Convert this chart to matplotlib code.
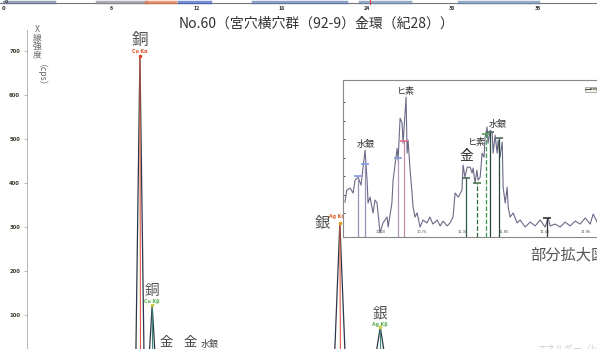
import matplotlib
matplotlib.use("Agg")
from matplotlib import pyplot as plt

plt.rcParams['font.family'] = ['Noto Sans CJK JP', 'DejaVu Sans']

W, H = 597, 349

# main spectrum (keV, cps)
energy = [0.1, 7.6, 7.75, 8.04, 8.33, 8.6, 8.68, 8.9, 9.12, 9.4, 9.71, 10.0,
          10.54, 11.44, 11.82, 12.6, 21.6, 21.72, 22.1, 22.48, 22.7, 24.5,
          24.59, 24.94, 25.29, 25.5, 40.5]
counts = [4, 4, 0, 690, 0, 6, 0, 123, 0, 6, 14, 10,
          12, 14, 11, 6, 4, 0, 310, 0, 4, 4,
          0, 73, 0, 4, 4]

# identified lines
peak_e = [8.04, 8.9, 22.1, 24.94]
peak_h = [690, 123, 310, 73]
peak_name = ["Cu Kα", "Cu Kβ", "Ag Kα", "Ag Kβ"]
peak_elem = ["銅", "銅", "銀", "銀"]

# enlarged region (keV, cps)
zoom_e = [9.72, 9.745, 9.79, 9.83, 9.856, 9.896, 9.936, 9.99, 10.017, 10.03,
          10.057, 10.097, 10.124, 10.15, 10.178, 10.19, 10.23, 10.285, 10.3,
          10.35, 10.366, 10.42, 10.433, 10.46, 10.487, 10.5, 10.54, 10.554,
          10.567, 10.594, 10.62, 10.634, 10.66, 10.688, 10.728, 10.768, 10.82,
          10.86, 10.9, 10.957, 10.997, 11.037, 11.09, 11.13, 11.17, 11.198,
          11.24, 11.29, 11.305, 11.33, 11.36, 11.4, 11.426, 11.44, 11.466,
          11.49, 11.507, 11.534, 11.56, 11.587, 11.6, 11.627, 11.64, 11.668,
          11.695, 11.708, 11.735, 11.762, 11.775, 11.8, 11.83, 11.842, 11.87,
          11.896, 11.91, 11.936, 11.977, 12.03, 12.07, 12.138, 12.205, 12.272,
          12.339, 12.406, 12.446, 12.473, 12.54, 12.607, 12.674, 12.74, 12.81,
          12.876, 12.943, 13.01, 13.05, 13.104, 13.2, 13.3]
zoom_c = [18.9, 25.4, 26.5, 23.8, 30.8, 32.4, 28.1, 47, 30.8, 18.4,
          21.6, 13, 20, 18.4, 7.6, 2.2, 7.6, 10.8, 5.4,
          18.4, 30.8, 48, 41.6, 64.3, 61.6, 50.8, 75.7, 45.4,
          52.4, 36.2, 23.8, 16.2, 10.8, 13, 5.4, 9.2, 7.6,
          10.8, 7, 9.2, 6, 8.6, 6, 7.6, 10.8, 23.8,
          21.6, 25.4, 38.9, 32.4, 37.8, 37.8, 34.6, 37.3, 29.2,
          36.2, 30.8, 32.4, 45.4, 43.2, 54, 59.5, 50.8, 57.8,
          56.2, 45.4, 55.1, 45.4, 52.4, 43.2, 51.4, 27, 18.4,
          27, 16.2, 10.8, 13, 7.6, 9.2, 5.4, 8.1, 6,
          9.2, 5.4, 10.3, 6, 7, 5.4, 8.1, 6, 8.6,
          7, 10.3, 7, 12.4, 8.1, 6, 9]

# marker lines in the enlarged region
mark_e = [9.896, 9.99, 10.433, 10.513, 11.346, 11.493, 11.614, 11.668, 11.789, 12.433]
mark_h = [33, 39.5, 42.7, 51.9, 31.9, 29.2, 56, 56.8, 53.5, 10.3]
mark_line = ['#9a90b8', '#9a90b8', '#b098b8', '#c890a8', '#2f5a4a',
             '#2f6a3a', '#3a9a4a', '#24463c', '#24463c', '#333333']
mark_cap = ['#7f9be0', '#7f9be0', '#7f9be0', '#e0708a', '#4a6a5a',
            '#4a7a4a', '#5aa05a', '#556a66', '#556a66', '#333333']
mark_style = ['-', '-', '-', '-', '-', '--', '--', '-', '-', '-']

zoom_labels = ["ヒ素", "水銀", "金", "ヒ素", "水銀"]
zoom_label_e = [10.54, 10.003, 11.346, 11.493, 11.775]
zoom_label_c = [78.9, 50.3, 43.8, 51.4, 61.1]
zoom_label_size = [6.5, 6.5, 10, 6.5, 6.5]
zoom_ticks = [10.2, 10.75, 11.3, 11.85, 12.4, 12.95]

y_ticks = [100, 200, 300, 400, 500, 600, 700]
strip_ticks = [6, 12, 18, 24, 30, 36]


def px_to_kev(px):
    return (px - 25.6) / 14.22


fig = plt.figure(figsize=(W / 100, H / 100), dpi=100)

# --- strip left over from the chart above ---
strip = fig.add_axes([0, 1 - 5 / H, 1, 5 / H])
strip.set_xlim(px_to_kev(0), px_to_kev(W))
strip.set_ylim(0, 1)
strip.axhline(0.35, color='#777777', lw=0.8)
for a, b, c in [(-1.5, 2.0, '#6a7a9a'), (5.0, 8.5, '#8a8a9a'), (8.5, 10.5, '#e07040'),
                (10.8, 13.0, '#4060c0'), (16.0, 22.5, '#5a7ab0'), (23.5, 27.0, '#6a8ab0'),
                (30.5, 36.0, '#6a8ab0')]:
    strip.plot([a, b], [0.6, 0.6], color=c, lw=2.5, alpha=0.7)
strip.axvline(24.2, color='#e04040', lw=0.8)
strip.set_xticks(strip_ticks)
strip.set_xticklabels([str(t) for t in strip_ticks], fontsize=3.8,
                      fontweight='bold', color='#333333')
strip.tick_params(axis='x', length=0, pad=0.5)
strip.set_yticks([])
for s in strip.spines.values():
    s.set_visible(False)
fig.text(2 / W, 1 - 9 / H, "0", fontsize=3.8, fontweight='bold', color='#333333',
         ha='left', va='center', family='DejaVu Sans')
fig.text(5 / W, 1 - 2 / H, "0", fontsize=3.2, fontweight='bold', color='#333333',
         ha='left', va='center', family='DejaVu Sans')

# --- main spectrum ---
ax = fig.add_axes([27 / W, 0, 1 - 27 / W, 1 - 30 / H])
ax.set_xlim(px_to_kev(27), px_to_kev(W))
ax.set_ylim(22.7, 748)
ax.plot(energy, counts, color='#2c3848', lw=0.9)

line_cols = ['#e05a40', '#3a8a7a', '#e05a40', '#3a8a7a']
dot_cols = ['#d9432f', '#c8c840', '#e0a020', '#c8d040']
name_cols = ['#e0502a', '#58b050', '#e0602a', '#58b050']
name_off = [(0, 2.9), (0, 2.2), (-2.2, 4.3), (0, 1.4)]
elem_off = [(0, 11), (0, 10), (-12.5, 0), (0, 9.4)]
elem_size = [12, 10.5, 11, 10.5]
for i in range(len(peak_e)):
    ax.plot([peak_e[i] + 0.04, peak_e[i]], [0, peak_h[i]], color=line_cols[i], lw=0.8)
    ax.plot([peak_e[i]], [peak_h[i]], 'o', ms=2.6, color=dot_cols[i], mec='none')
    ax.annotate(peak_name[i], (peak_e[i], peak_h[i]), xytext=name_off[i],
                textcoords='offset points', ha='center', va='center',
                fontsize=3.4, color=name_cols[i], family='DejaVu Sans', fontweight='bold')
    ax.annotate(peak_elem[i], (peak_e[i], peak_h[i]), xytext=elem_off[i],
                textcoords='offset points', ha='center', va='center',
                fontsize=elem_size[i], color='#555555')

ax.text(9.85, 38, "金", fontsize=9.5, color='#444444', ha='center', va='center')
ax.text(11.6, 38, "金", fontsize=9.5, color='#444444', ha='center', va='center')
ax.text(12.35, 34, "水銀", fontsize=6.5, color='#444444', ha='left', va='center')

ax.set_yticks(y_ticks)
ax.set_yticklabels([str(t) for t in y_ticks], fontsize=3.8, fontweight='bold',
                   color='#3a3a2a', family='DejaVu Sans')
ax.tick_params(axis='y', length=2, width=0.5, color='#999999', pad=3)
ax.set_xticks([])
for k in ['top', 'right', 'bottom']:
    ax.spines[k].set_visible(False)
ax.spines['left'].set_color('#aaaaaa')
ax.spines['left'].set_linewidth(0.6)
ax.spines['left'].set_linestyle((0, (2, 1)))

# vertical axis title
fig.text(37 / W, 1 - 25 / H, "X\n線\n強\n度", fontsize=6.3, color='#666666',
         ha='center', va='top', linespacing=0.95)
fig.text(37 / W, 1 - 64 / H, "（cps）", fontsize=6.3, color='#666666',
         ha='center', va='top', rotation=-90)

fig.text(317 / W, 1 - 24 / H, "No.60（宮穴横穴群（92-9）金環（紀28））",
         fontsize=10, color='#333333', ha='center', va='center')

# --- enlarged region ---
axi = fig.add_axes([342.7 / W, 1 - 237 / H, (620 - 342.7) / W, 157 / H])
axi.set_xlim(9.69, 13.41)
axi.set_ylim(0, 85)
axi.plot(zoom_e, zoom_c, color='#6a6a88', lw=0.8)
for i in range(len(mark_e)):
    axi.plot([mark_e[i], mark_e[i]], [0, mark_h[i]], color=mark_line[i], lw=0.9,
             ls=mark_style[i])
    axi.plot([mark_e[i]], [mark_h[i]], marker='_', ms=6, mew=1.2, color=mark_cap[i])
for i in range(len(zoom_labels)):
    axi.text(zoom_label_e[i], zoom_label_c[i], zoom_labels[i], fontsize=zoom_label_size[i],
             color='#333333', ha='center', va='center')
axi.set_xticks(zoom_ticks)
axi.set_xticklabels(["%.2f" % t for t in zoom_ticks], fontsize=2.5, color='#444444',
                    family='DejaVu Sans')
axi.tick_params(axis='x', direction='in', length=0, pad=-5)
axi.set_yticks([13, 23, 33, 43, 53, 63, 73])
axi.set_yticklabels([])
axi.tick_params(axis='y', direction='in', length=1.5, width=0.5)
for s in axi.spines.values():
    s.set_color('#888888')
    s.set_linewidth(0.8)
leg = axi.legend([plt.Line2D([], [], color='#555555', lw=0.8)], ["sample"],
                 loc='upper left', bbox_to_anchor=((583 - 342.7) / 277.3, 1 - 5 / 157),
                 fontsize=2.5, frameon=True, handlelength=1.2, borderpad=0.2,
                 handletextpad=0.2)
leg.get_frame().set_edgecolor('#777777')
leg.get_frame().set_facecolor('#f0f0e0')
leg.get_frame().set_linewidth(0.5)

fig.text(530 / W, 1 - 255 / H, "部分拡大図", fontsize=11, color='#555555',
         ha='left', va='center')
fig.text(537 / W, 1 - 345 / H, "エネルギー（keV）", fontsize=6.5, color='#cccccc',
         ha='left', va='top')

fig.savefig("out.png", dpi=100)
